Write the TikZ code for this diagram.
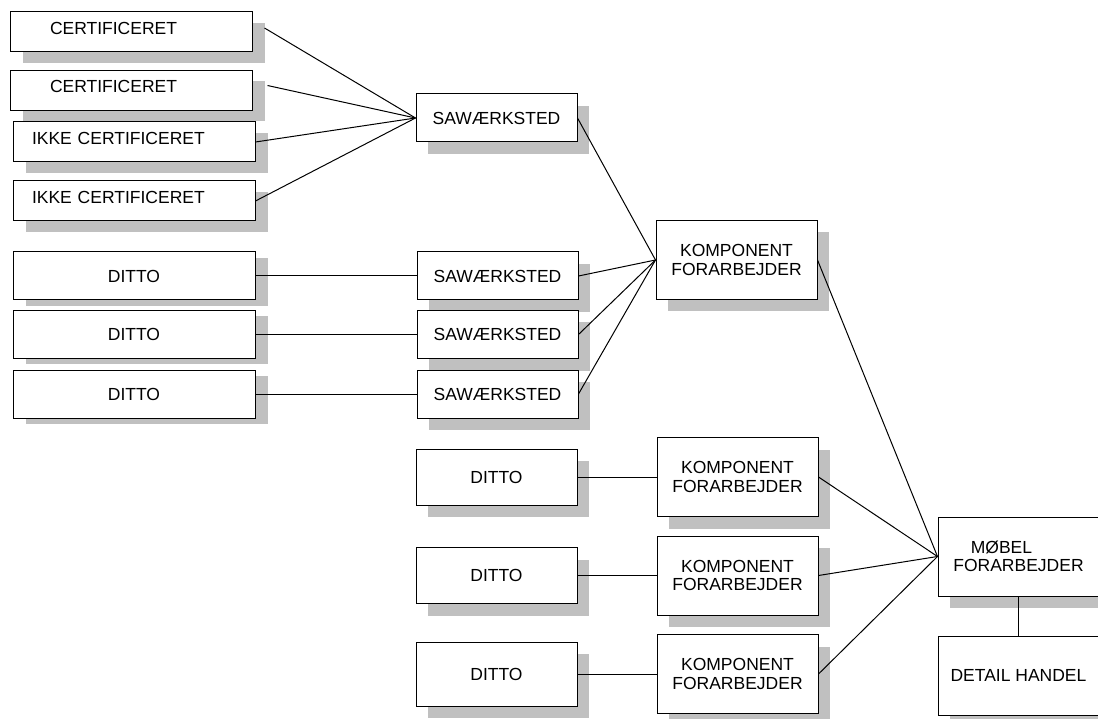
\documentclass[tikz,border=0pt]{standalone}
\usepackage{fontspec}
\setmainfont{Liberation Sans}
\usetikzlibrary{positioning,shadows}
\definecolor{shadowgray}{RGB}{192,192,192}

\begin{document}
\begin{tikzpicture}[x=1pt, y=-1pt, line width=1pt,
    plain/.style={draw, fill=white, align=center, inner sep=2pt,
                  font=\fontsize{17.5}{18.5}\selectfont},
    cast/.style 2 args={drop shadow={shadow xshift=#1, shadow yshift=-#2,
                  fill=shadowgray, opacity=1}},
    box/.style={plain, cast={12pt}{12pt}},
    wide/.style={plain, cast={13pt}{11pt}, minimum width=242pt, minimum height=40pt},
    lowwide/.style={plain, cast={13pt}{6pt}, minimum width=242pt, minimum height=48pt},
    narrow/.style={box, minimum width=161pt, minimum height=48pt},
    tall/.style={narrow, minimum height=79pt},
    indent/.style 2 args={align=left, text width=#1, inner xsep=#2, text depth=8pt}]

    \useasboundingbox (0,0) rectangle (1098,719);

    % suppliers
    \node[wide, indent={162pt}{40pt}]   (cert1)   at (131,32)      {CERTIFICERET};
    \node[wide, indent={162pt}{40pt}]   (cert2)   at (131,90.5)    {CERTIFICERET};
    \node[wide, indent={204pt}{19pt}]   (ikke1)   at (134,142)     {IKKE CERTIFICERET};
    \node[wide, indent={204pt}{19pt}]   (ikke2)   at (134,201)     {IKKE CERTIFICERET};
    \node[lowwide]                      (ditto1)  at (134,276)     {DITTO};
    \node[lowwide]                      (ditto2)  at (134,334.5)   {DITTO};
    \node[lowwide]                      (ditto3)  at (134,394)     {DITTO};

    % saw mills
    \node[narrow]                       (saw1)    at (496.5,118)   {SAWÆRKSTED};
    \node[narrow]                       (saw2)    [right=161pt of ditto1]  {SAWÆRKSTED};
    \node[narrow]                       (saw3)    [right=161pt of ditto2]  {SAWÆRKSTED};
    \node[narrow]                       (saw4)    [right=161pt of ditto3]  {SAWÆRKSTED};
    \node[narrow, minimum height=56pt]  (dittoB1) at (496.5,477)   {DITTO};
    \node[narrow, minimum height=56pt]  (dittoB2) at (496.5,575.5) {DITTO};
    \node[narrow, minimum height=64pt]  (dittoB3) at (496.5,674)   {DITTO};

    % component makers
    \node[tall]                         (komp1)   at (736.5,260)   {KOMPONENT\\FORARBEJDER};
    \node[tall]                         (komp2)   [right=79pt of dittoB1]  {KOMPONENT\\FORARBEJDER};
    \node[tall]                         (komp3)   [right=79pt of dittoB2]  {KOMPONENT\\FORARBEJDER};
    \node[tall]                         (komp4)   [right=79pt of dittoB3]  {KOMPONENT\\FORARBEJDER};

    % furniture and retail
    \node[tall, align=left]             (moebel)  at (1018.5,556.5) {\quad MØBEL\\FORARBEJDER};
    \node[tall]                         (detail)  [below=39pt of moebel]   {DETAIL HANDEL};

    \path   ([shift={(12pt,4pt)}]cert1.east)   edge  (saw1.west)
            ([shift={(15pt,5pt)}]cert2.east)   edge  (saw1.west)
            (ikke1.east)   edge  (saw1.west)
            (ikke2.east)   edge  (saw1.west)
            (ditto1.east)  edge  (saw2.west)
            (ditto2.east)  edge  (saw3.west)
            (ditto3.east)  edge  (saw4.west);

    \path   (saw1.east)    edge  (komp1.west)
            (saw2.east)    edge  (komp1.west)
            (saw3.east)    edge  (komp1.west)
            (saw4.east)    edge  (komp1.west)
            (dittoB1.east) edge  (komp2.west)
            (dittoB2.east) edge  (komp3.west)
            (dittoB3.east) edge  (komp4.west);

    \path   (komp1.east)   edge  (moebel.west)
            (komp2.east)   edge  (moebel.west)
            (komp3.east)   edge  (moebel.west)
            (komp4.east)   edge  (moebel.west)
            (moebel)       edge  (detail);
\end{tikzpicture}
\end{document}
